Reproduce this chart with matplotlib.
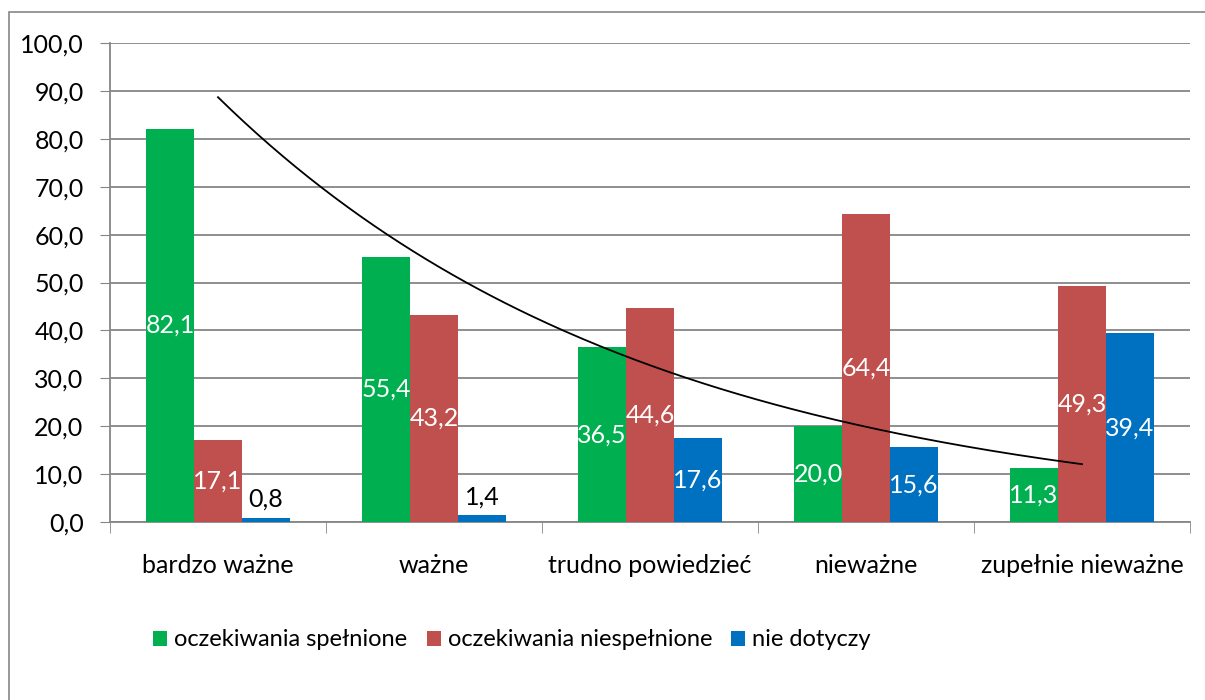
import numpy as np
import matplotlib.pyplot as plt
from matplotlib.patches import Rectangle

###   DONNEES   ###

kategorie = ["bardzo ważne", "ważne", "trudno powiedzieć", "nieważne", "zupełnie nieważne"]
spelnione = [82.1, 55.4, 36.5, 20.0, 11.3]
niespelnione = [17.1, 43.2, 44.6, 64.4, 49.3]
nie_dotyczy = [0.8, 1.4, 17.6, 15.6, 39.4]
serie = ["oczekiwania spełnione", "oczekiwania niespełnione", "nie dotyczy"]
kolory = ["#00B050", "#C0504D", "#0070C0"]
y_ticks = [0, 10, 20, 30, 40, 50, 60, 70, 80, 90, 100]

plt.rcParams['font.family'] = ['Lato', 'DejaVu Sans']
FS = 18

fig = plt.figure(figsize=(12.05, 7), dpi=100)
ax = fig.add_axes([110/1205, 1-522/700, 1080/1205, 479/700])

# ramka wokol wykresu
fig.patches.append(Rectangle((9/1205, -0.05), 1.1, 1.05-12/700, transform=fig.transFigure,
                             fill=False, edgecolor="#868686", linewidth=1.2))

x = np.arange(len(kategorie))
w = 0.222
for i, (dane, kol) in enumerate(zip([spelnione, niespelnione, nie_dotyczy], kolory)):
    pos = x + (i - 1) * w
    ax.bar(pos, dane, width=w, color=kol, label=serie[i], zorder=3)
    for px, v in zip(pos, dane):
        txt = f"{v:.1f}".replace(".", ",")
        if v < 5:
            ax.text(px, v + 1.5, txt, ha="center", va="bottom", fontsize=FS, color="black", zorder=4)
        else:
            ax.text(px, v / 2, txt, ha="center", va="center", fontsize=FS, color="white", zorder=4)

# linia trendu wykladnicza (dopasowana do serii zielonej)
a, b = np.polyfit(x + 1, np.log(spelnione), 1)
xs = np.linspace(0, len(kategorie) - 1, 200)
ax.plot(xs, np.exp(b + a * (xs + 1)), color="black", linewidth=1.3, zorder=5)

ax.set_xlim(-0.5, len(kategorie) - 0.5)
ax.set_ylim(0, 100)
ax.set_yticks(y_ticks)
ax.set_yticklabels([f"{t:.1f}".replace(".", ",") for t in y_ticks], fontsize=FS)
ax.set_xticks(x)
ax.set_xticklabels(kategorie, fontsize=FS)
ax.tick_params(axis="x", length=0, pad=23)
ax.set_xticks(np.arange(-0.5, len(kategorie), 1), minor=True)
ax.tick_params(axis="x", which="minor", length=8, color="#868686")
ax.tick_params(axis="y", length=7, color="#868686", pad=12)
ax.grid(axis="y", color="#868686", linewidth=1.3, zorder=0)
for s in ["top", "right"]:
    ax.spines[s].set_visible(False)
for s in ["left", "bottom"]:
    ax.spines[s].set_color("#868686")
    ax.spines[s].set_linewidth(1.3)

fig.legend(loc="center left", bbox_to_anchor=(132/1205, 1-640/700), ncol=3, frameon=False,
           fontsize=17, handlelength=0.6, handleheight=0.6, handletextpad=0.3, columnspacing=0.8)

fig.savefig("out.png", dpi=100)
